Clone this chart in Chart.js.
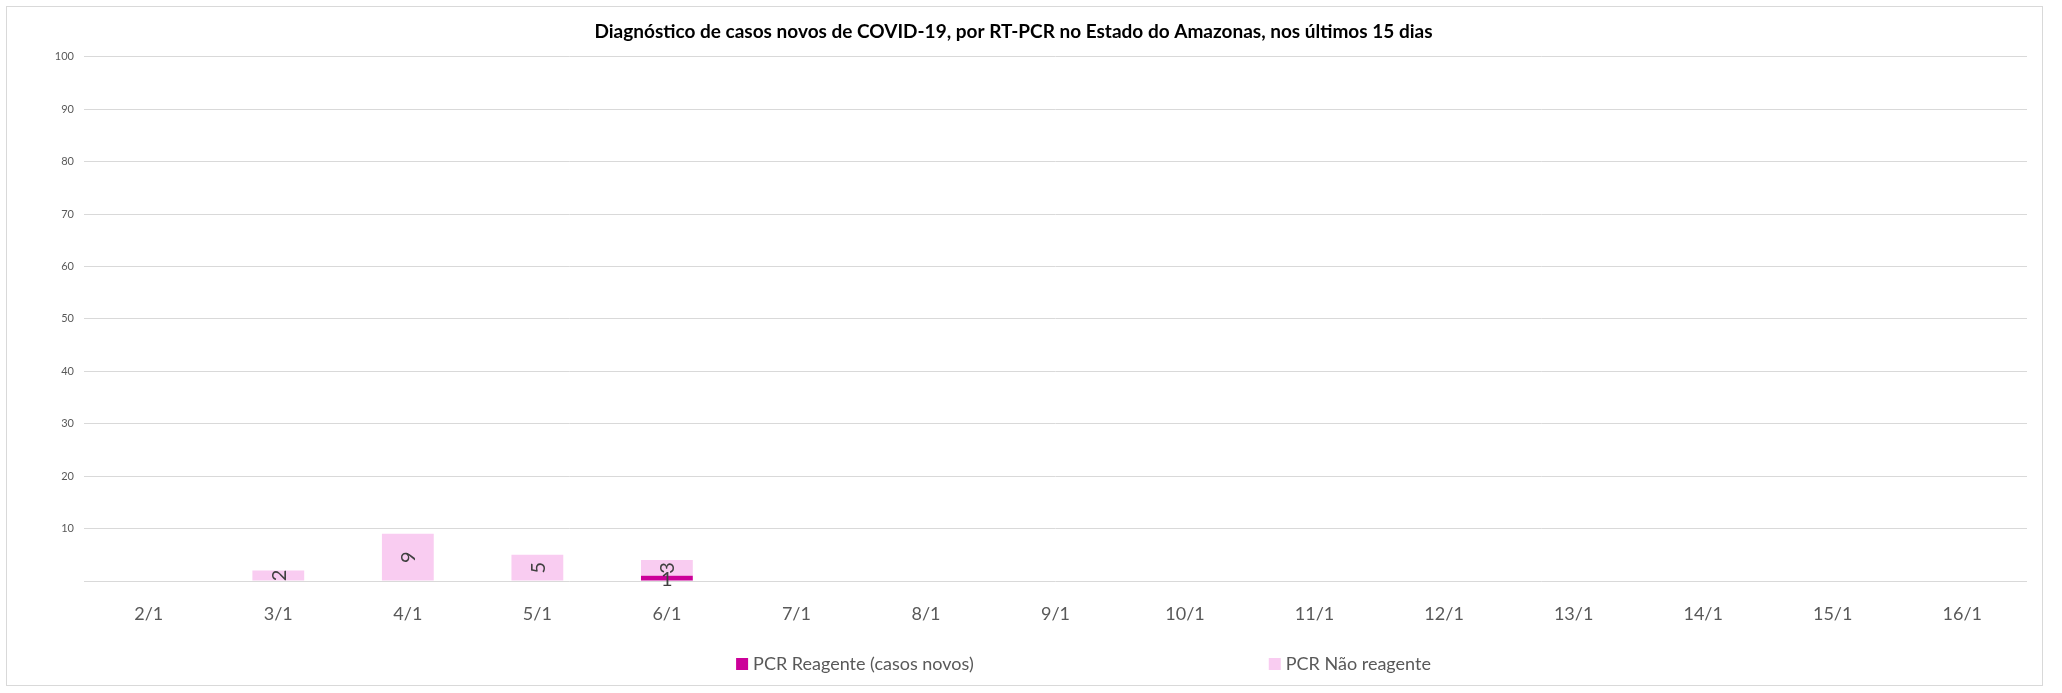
<!DOCTYPE html>
<html>
<head>
<meta charset="utf-8">
<script src="https://cdn.jsdelivr.net/npm/chart.js@4/dist/chart.umd.min.js"></script>
<style>
  html, body { margin: 0; padding: 0; background: #fff; }
  #wrap { position: absolute; left: 0; top: 0; width: 2062px; height: 693px; }
</style>
</head>
<body>
<div id="wrap"><canvas id="grafico"></canvas></div>
<script>
// dados
const dias = ['2/1', '3/1', '4/1', '5/1', '6/1', '7/1', '8/1', '9/1', '10/1', '11/1', '12/1', '13/1', '14/1', '15/1', '16/1'];
const reagente = [null, null, null, null, 1, null, null, null, null, null, null, null, null, null, null];
const naoReagente = [null, 2, 9, 5, 3, null, null, null, null, null, null, null, null, null, null];
const yTicks = [10, 20, 30, 40, 50, 60, 70, 80, 90, 100];

const titulo = 'Diagnóstico de casos novos de COVID-19, por RT-PCR no Estado do Amazonas, nos últimos 15 dias';
const fonte = 'Lato, "Open Sans", sans-serif';

// moldura do gráfico
const moldura = {
  id: 'moldura',
  beforeDraw(chart) {
    const c = chart.ctx;
    c.save();
    c.fillStyle = '#fff';
    c.fillRect(0, 0, chart.width, chart.height);
    c.strokeStyle = '#d9d9d9';
    c.lineWidth = 1;
    c.strokeRect(6.5, 6.5, 2036, 679);
    c.restore();
  }
};

// rótulos dos valores
const rotulos = {
  id: 'rotulos',
  afterDatasetsDraw(chart) {
    const c = chart.ctx;
    c.save();
    c.font = '20px ' + fonte;
    c.fillStyle = '#404040';
    c.textAlign = 'center';
    c.textBaseline = 'middle';
    chart.data.datasets.forEach((ds, i) => {
      chart.getDatasetMeta(i).data.forEach((bar, j) => {
        const v = ds.data[j];
        if (v == null || v === 0) return;
        const cy = (bar.y + bar.base) / 2;
        c.save();
        c.translate(bar.x, cy);
        if (i === 1) c.rotate(-Math.PI / 2);
        c.fillText(String(v), 0, 1);
        c.restore();
      });
    });
    c.restore();
  }
};

// legenda no estilo do Excel (itens bem afastados)
const legenda = {
  id: 'legenda',
  afterDraw(chart) {
    const c = chart.ctx;
    const ds = chart.data.datasets;
    const caixa = 12, folga = 5, espaco = 295;
    c.save();
    c.font = '18px ' + fonte;
    const larg = ds.map(d => caixa + folga + c.measureText(d.label).width);
    const total = larg.reduce((a, b) => a + b, 0) + espaco * (ds.length - 1);
    const area = chart.chartArea;
    let x = (area.left + area.right) / 2 + 28 - total / 2;
    const y = 664;
    c.textBaseline = 'middle';
    c.textAlign = 'left';
    ds.forEach((d, i) => {
      c.fillStyle = d.backgroundColor;
      c.fillRect(x, y - caixa / 2, caixa, caixa);
      c.fillStyle = '#595959';
      c.fillText(d.label, x + caixa + folga, y);
      x += larg[i] + espaco;
    });
    c.restore();
  }
};

new Chart(document.getElementById('grafico'), {
  type: 'bar',
  data: {
    labels: dias,
    datasets: [
      {
        label: 'PCR Reagente (casos novos)',
        data: reagente,
        backgroundColor: '#cc0099',
        barPercentage: 0.4,
        categoryPercentage: 1
      },
      {
        label: 'PCR Não reagente',
        data: naoReagente,
        backgroundColor: '#f9ccf1',
        barPercentage: 0.4,
        categoryPercentage: 1
      }
    ]
  },
  options: {
    responsive: true,
    maintainAspectRatio: false,
    animation: false,
    layout: { padding: { left: 0, right: 35, top: 14, bottom: 72 } },
    plugins: {
      title: {
        display: true,
        text: titulo,
        color: '#000',
        font: { family: fonte, size: 19, weight: 'bold' },
        padding: { top: 6, bottom: 14 }
      },
      legend: { display: false },
      tooltip: { enabled: false }
    },
    scales: {
      x: {
        stacked: true,
        afterFit(s) { s.height = 40; },
        grid: { display: false },
        border: { display: false },
        ticks: { color: '#595959', font: { family: fonte, size: 18 }, padding: 14, maxRotation: 0 }
      },
      y: {
        stacked: true,
        min: 0,
        max: 100,
        afterFit(s) { s.width = 84; },
        afterBuildTicks(s) { s.ticks = [0].concat(yTicks).map(v => ({ value: v })); },
        grid: { color: '#d9d9d9', drawTicks: false, lineWidth: 1 },
        border: { display: false },
        ticks: {
          color: '#595959',
          font: { family: fonte, size: 11 },
          padding: 10,
          callback: v => (v === 0 ? '' : v)
        }
      }
    }
  },
  plugins: [moldura, rotulos, legenda]
});
</script>
</body>
</html>
